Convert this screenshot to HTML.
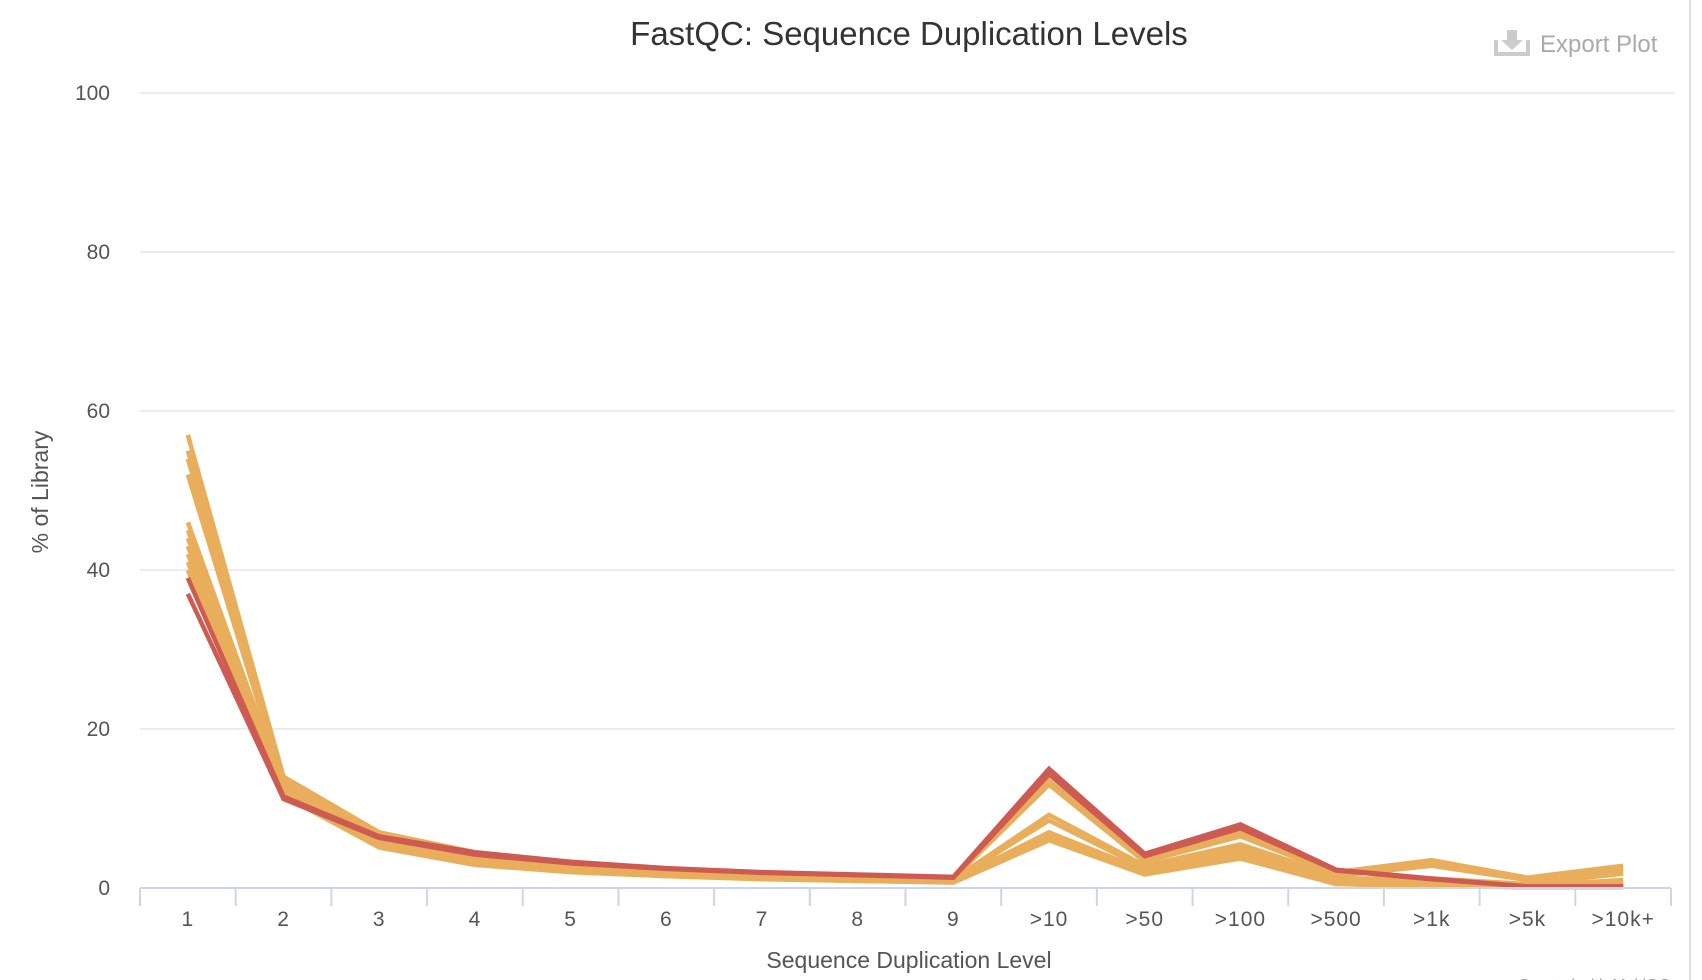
<!DOCTYPE html>
<html><head><meta charset="utf-8"><style>
html,body{margin:0;padding:0;background:#fff;width:1702px;height:980px;overflow:hidden;font-family:"Liberation Sans",sans-serif}
svg text{font-family:"Liberation Sans","DejaVu Sans",sans-serif}
</style></head><body>
<svg id="chart" width="1702" height="980" xmlns="http://www.w3.org/2000/svg">
<line x1="1690" y1="0" x2="1690" y2="980" stroke="#ddd" stroke-width="2"/>
<text x="909" y="45" text-anchor="middle" font-size="33" fill="#333">FastQC: Sequence Duplication Levels</text>
<g>
<path d="M1496 40v14h32v-14" fill="none" stroke="#ccc" stroke-width="4"/>
<path d="M1507 30h10v10h6l-11 10-11-10h6z" fill="#ccc"/>
<text x="1540" y="52" font-size="24" fill="#aaa">Export Plot</text>
</g>
<g id="grid"></g>
<g id="series"></g>
<g id="axes"></g>
<text x="909" y="968" text-anchor="middle" font-size="23" fill="#555">Sequence Duplication Level</text>
<text transform="translate(48,492) rotate(-90)" text-anchor="middle" font-size="23" fill="#555">% of Library</text>
<text x="1670" y="990" text-anchor="end" font-size="16" fill="#999">Created with MultiQC</text>
</svg>
<script>
const categories=["1","2","3","4","5","6","7","8","9",">10",">50",">100",">500",">1k",">5k",">10k+"];
const yTicks=[0,20,40,60,80,100];
const orangeSeries=[
[57,14,7,4.5,3.2,2.4,1.9,1.6,1.3,13.5,3.5,7,2,3.5,1.3,2.8],
[55,13.5,6.8,4.3,3,2.3,1.8,1.5,1.2,13,3.3,6.5,1.8,3.2,1.2,2.5],
[54,13.2,6.5,4.2,2.9,2.2,1.7,1.4,1.1,9.2,2.8,5.5,1.5,2.8,1.0,2],
[52,13,6.3,4,2.8,2.1,1.6,1.3,1.0,8.5,2.5,5,1.2,1.2,0.5,1.8],
[46,12.8,6,3.8,2.6,2,1.5,1.2,1.0,7,2.2,4.5,1,0.8,0.3,1],
[45,12.5,5.8,3.6,2.5,1.9,1.4,1.1,0.9,6.8,2.1,4.3,0.9,0.6,0.2,0.8],
[44,12.3,5.6,3.4,2.4,1.8,1.4,1.1,0.9,6.5,2,4.2,0.8,0.5,0.1,0.5],
[43,12,5.4,3.2,2.3,1.7,1.3,1.0,0.8,6.3,1.9,4,0.7,0.4,0.1,0.3],
[42,12,5.3,3.1,2.2,1.6,1.3,1.0,0.8,6.2,1.8,3.9,0.6,0.3,0.1,0.2],
[41,11.8,5.2,3,2.1,1.6,1.2,0.9,0.8,6.1,1.8,3.8,0.6,0.3,0.1,0.2],
[40,11.8,5.2,3,2.1,1.5,1.2,0.9,0.7,6,1.8,3.8,0.5,0.3,0.1,0.2],
[39,11.6,5.1,2.9,2,1.5,1.1,0.9,0.7,6,1.7,3.7,0.5,0.2,0.1,0.1]
];
const redSeries=[
[39,11.5,6.5,4.5,3.3,2.5,2,1.7,1.4,15,4.3,8,2.3,1.2,0.2,0.2],
[37,11.2,6.3,4.2,3.1,2.4,1.9,1.6,1.3,14.3,4,7.5,2.2,1.1,0.2,0.2]
];
const X0=140,X1=1671,Y0=888,YTOP=93,YMAX=100;
const bw=(X1-X0)/categories.length;
function xPos(i){return X0+bw*(i+0.5);}
function yPos(v){return Y0-(v/YMAX)*(Y0-YTOP);}
const NS="http://www.w3.org/2000/svg";
function mk(tag,attrs,parent){const e=document.createElementNS(NS,tag);for(const k in attrs)e.setAttribute(k,attrs[k]);parent.appendChild(e);return e;}
const grid=document.getElementById('grid'),axes=document.getElementById('axes'),ser=document.getElementById('series');
yTicks.forEach(t=>{
  if(t>0){const l=mk('line',{x1:X0,x2:X1+4,y1:yPos(t),y2:yPos(t),stroke:'#e6e6e6','stroke-width':1.5},grid);
  
  }
  const tx=mk('text',{x:110,y:yPos(t)+7,'text-anchor':'end','font-size':21,fill:'#555'},axes);
  tx.textContent=t;
  
  
});
const ax=mk('line',{x1:X0,x2:X1,y1:Y0,y2:Y0,stroke:'#ccd6eb','stroke-width':2},axes);


for(let i=0;i<=categories.length;i++){
  const tk=mk('line',{x1:X0+bw*i,x2:X0+bw*i,y1:Y0,y2:Y0+18,stroke:'#ccd6eb','stroke-width':2},axes);
  
  
}
categories.forEach((c,i)=>{
  const tx=mk('text',{x:xPos(i),y:Y0+38,'text-anchor':'middle','font-size':21,fill:'#555','letter-spacing':'1'},axes);
  tx.textContent=c;
  
  
});
function drawLine(vals,color,idx,kind){
  const p=mk('polyline',{points:vals.map((v,i)=>xPos(i)+','+yPos(v)).join(' '),fill:'none',stroke:color,'stroke-width':4.5,'stroke-linejoin':'miter'},ser);
  
  
}
orangeSeries.forEach((s,i)=>drawLine(s,'#e9ae5c',i,'orange'));
redSeries.forEach((s,i)=>drawLine(s,'#cd5b52',i,'red'));
</script>
</body></html>
